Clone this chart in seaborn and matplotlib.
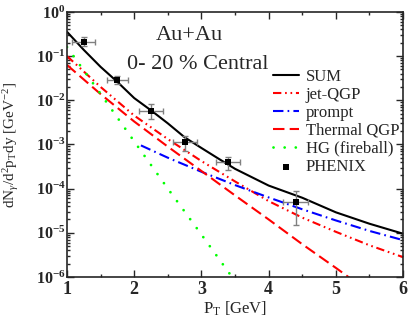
import matplotlib
matplotlib.use("Agg")
import matplotlib.pyplot as plt
import seaborn as sns
from matplotlib.ticker import MultipleLocator, LogLocator, FuncFormatter, NullFormatter
import numpy as np

# values (pT in GeV, yield in GeV^-2)
sum_pt = [1.0, 1.25, 1.5, 1.75, 2.0, 2.25, 2.5, 2.75, 3.0, 3.25, 3.5, 4.0, 4.5, 5.0, 5.5, 6.0]
sum_y = [0.355, 0.138, 0.057, 0.026, 0.0112, 5.9e-3, 3.0e-3, 1.45e-3, 8.3e-4, 4.8e-4,
         2.8e-4, 1.17e-4, 6.2e-5, 2.9e-5, 1.6e-5, 9.5e-6]

jet_pt = [1.0, 1.5, 2.0, 2.5, 3.0, 3.5, 4.0, 4.5, 5.0, 5.5, 6.0]
jet_y = [0.1, 0.02, 4.5e-3, 1.32e-3, 4.2e-4, 1.45e-4, 5.2e-5, 2.2e-5, 1.05e-5, 5.2e-6, 2.8e-6]

prompt_pt = [2.1, 2.5, 3.0, 3.5, 4.0, 4.5, 5.0, 5.5, 6.0]
prompt_y = [9.5e-4, 5.0e-4, 2.4e-4, 1.2e-4, 6.3e-5, 3.4e-5, 1.9e-5, 1.1e-5, 6.8e-6]

thermal_pt = [1.0, 1.5, 2.0, 2.5, 3.0, 3.5, 4.0, 4.5, 5.0, 5.5, 6.0]
thermal_y = [0.063, 0.0138, 3.3e-3, 8.9e-4, 2.5e-4, 7.0e-5, 2.0e-5, 5.5e-6, 1.6e-6, 4.5e-7, 1.3e-7]

hg_pt = [1.0, 1.5, 2.0, 2.5, 3.0, 3.5]
hg_y = [0.16, 0.014, 1.17e-3, 1.0e-4, 9.1e-6, 8.0e-7]

phenix_pt = [1.25, 1.75, 2.25, 2.75, 3.4, 4.4]
phenix_y = [0.21, 0.029, 0.0058, 1.15e-3, 4.1e-4, 5.0e-5]
phenix_xerr = [0.17, 0.16, 0.18, 0.18, 0.18, 0.19]
phenix_lo = [0.17, 0.0236, 3.8e-3, 7.2e-4, 2.7e-4, 1.5e-5]
phenix_hi = [0.27, 0.036, 8.3e-3, 1.56e-3, 5.2e-4, 8.9e-5]

sns.set_style("ticks")
plt.rcParams["font.family"] = ["Liberation Serif", "DejaVu Serif"]
plt.rcParams["mathtext.fontset"] = "custom"
plt.rcParams["mathtext.rm"] = "Liberation Serif"
plt.rcParams["mathtext.it"] = "Liberation Serif:italic"
plt.rcParams["mathtext.bf"] = "Liberation Serif:bold"


def main():
    fig = plt.figure(figsize=(4.16, 3.22), dpi=100)
    ax = fig.add_axes([0.161, 0.14, 0.808, 0.823])

    lw = 1.5
    sns.lineplot(x=sum_pt, y=sum_y, ax=ax, color="black", lw=lw, label="SUM")
    sns.lineplot(x=jet_pt, y=jet_y, ax=ax, color="#ff0000", lw=lw,
                 linestyle=(0, (4, 1.8, 0.8, 1.8, 0.8, 1.8)), label="jet-QGP")
    sns.lineplot(x=prompt_pt, y=prompt_y, ax=ax, color="#0000ff", lw=lw,
                 linestyle=(0, (5, 2, 0.8, 2)), label="prompt")
    sns.lineplot(x=thermal_pt, y=thermal_y, ax=ax, color="#ff0000", lw=lw,
                 linestyle=(0, (5.5, 2.5)), label="Thermal QGP")
    sns.lineplot(x=hg_pt, y=hg_y, ax=ax, color="#00ff00", lw=2.0,
                 linestyle=(0, (0.01, 4)), dash_capstyle="round", label="HG (fireball)")

    yerr = [np.subtract(phenix_y, phenix_lo), np.subtract(phenix_hi, phenix_y)]
    ax.errorbar(phenix_pt, phenix_y, xerr=phenix_xerr, yerr=yerr, fmt="none",
                ecolor="#808080", elinewidth=1.0, capsize=2.5, capthick=1.0, zorder=3)
    sns.scatterplot(x=phenix_pt, y=phenix_y, ax=ax, marker="s", color="black",
                    s=14, edgecolor="black", linewidth=0, zorder=4, label="PHENIX")

    ax.set_yscale("log")
    ax.set_xlim(1, 6)
    ax.set_ylim(1e-6, 1)

    ax.xaxis.set_major_locator(MultipleLocator(1))
    ax.xaxis.set_minor_locator(MultipleLocator(0.5))
    ax.yaxis.set_major_locator(LogLocator(base=10, numticks=10))
    ax.yaxis.set_minor_locator(LogLocator(base=10, subs=np.arange(2, 10), numticks=10))
    ax.yaxis.set_minor_formatter(NullFormatter())
    ax.yaxis.set_major_formatter(FuncFormatter(
        lambda v, pos: r"$\mathbf{10^{%d}}$" % int(round(np.log10(v)))))

    ax.tick_params(which="both", direction="in", top=True, right=True, width=1.0)
    ax.tick_params(which="major", length=5, pad=3)
    ax.tick_params(axis="x", which="major", labelsize=13)
    ax.tick_params(axis="y", which="major", labelsize=11.5, pad=1)
    ax.tick_params(which="minor", length=2.5)
    for lab in ax.get_xticklabels():
        lab.set_fontweight("bold")
    for side in ax.spines.values():
        side.set_linewidth(1.2)

    ax.set_xlabel(r"P$_{\rm T}$ [GeV]", fontsize=12, labelpad=1)
    ax.set_ylabel(r"dN$_{\gamma}$/d$^{2}$p$_{\rm T}$dy [GeV$^{-2}$]", fontsize=11)
    ax.yaxis.set_label_coords(-0.138, 0.5)

    ax.text(0.365, 0.91, "Au+Au", transform=ax.transAxes, fontsize=16,
            ha="center", va="center")
    ax.text(0.39, 0.80, "0- 20 % Central", transform=ax.transAxes, fontsize=16,
            ha="center", va="center")

    ax.legend(loc="upper left", bbox_to_anchor=(0.613, 0.785), frameon=False,
              fontsize=12, handlelength=1.55, handletextpad=0.4, labelspacing=0.12,
              borderpad=0, borderaxespad=0, scatterpoints=1)

    fig.savefig("out.png", dpi=100)
    plt.close(fig)


if __name__ == "__main__":
    main()
